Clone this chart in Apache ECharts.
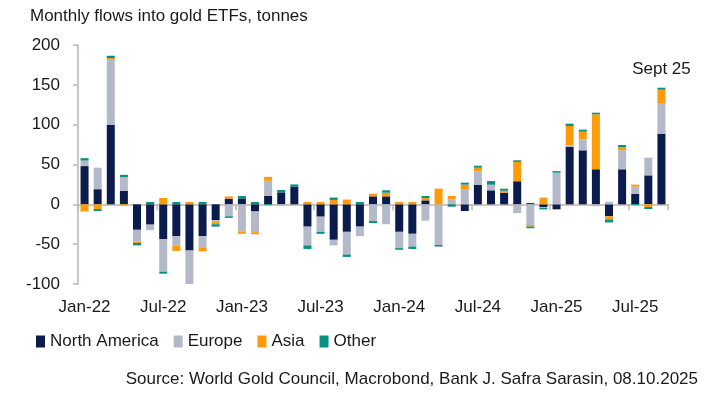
<!DOCTYPE html>
<html>
<head>
<meta charset="utf-8">
<script src="https://cdn.jsdelivr.net/npm/echarts@6/dist/echarts.min.js"></script>
<style>
html, body { margin: 0; padding: 0; background: #fff; }
#main { width: 708px; height: 397px; }
</style>
</head>
<body>
<div id="main"></div>
<script>
// months Jan-22 .. Sep-25
var months = ['Jan-22','Feb-22','Mar-22','Apr-22','May-22','Jun-22','Jul-22','Aug-22','Sep-22','Oct-22','Nov-22','Dec-22',
              'Jan-23','Feb-23','Mar-23','Apr-23','May-23','Jun-23','Jul-23','Aug-23','Sep-23','Oct-23','Nov-23','Dec-23',
              'Jan-24','Feb-24','Mar-24','Apr-24','May-24','Jun-24','Jul-24','Aug-24','Sep-24','Oct-24','Nov-24','Dec-24',
              'Jan-25','Feb-25','Mar-25','Apr-25','May-25','Jun-25','Jul-25','Aug-25','Sep-25'];

// tonnes
var northAmerica = [48, 19, 100, 17, -32, -25.5, -43.5, -40, -58, -40, -20, 7,
                    7.5, -9, 10.5, 15, 22, -28, -15.5, -44.5, -34.5, -28, 10, 10,
                    -34.5, -37, 5, 0, 0, -8.4, 24.7, 17.6, 14.6, 29, 1.5, -3.4,
                    -6.3, 72, 67.8, 44, -15, 44, 13, 36.4, 88.7];
var europe = [7, 27, 81.5, 17, -14.5, -7, -41, -11.5, -43, -14, -2, -15,
              -34, -26, 19, -1, 0, -23.5, -19, -7, -28.5, -12, -21, -25,
              -20.5, -16, -20.5, -51, 6, 18.4, 16.7, 7, 0, -11, -26, -1,
              39.7, 2, 13.8, -2.5, 3.4, 23.8, 9.2, 22.2, 37.6];
var asia = [-9, -6, 2, -1.5, -2, 0, 8, -7, 3, -5, -3, 3,
            -3, -2.5, 5, 0, 0, 3, 3, 5.5, 6, 0, 3.3, 4.6,
            3, 3, 3, 19.7, 4.6, 6.3, 4.6, 0, 2.5, 24.3, -2, 8.4,
            0, 24.3, 9.6, 69, -4, 4.2, 2.5, -3.4, 17.6];
var other = [3, -2.5, 3, 3, -3, 3, -2.5, 3, -2, 3, -3, -2,
             3, 3, -1, 3, 3, -4.5, -2.5, 3, -3, 3, -2.5, 3,
             -2, -3, 2.5, -2, -3, 2.5, 2.5, 4.6, 2.5, 2, -2, -2,
             2, 2.9, 2.5, 2, -3.8, 2.5, -1, -2.5, 2.5];

var yMin = -100, yMax = 200, yStep = 50;

var font = 'Liberation Sans';
var fontSize = 17;
var textColor = '#1a1a1a';
var axisColor = '#bdb5ab';

var dom = document.getElementById('main');
var myChart = echarts.init(dom);

function bar(name, data, color) {
    return {
        name: name,
        type: 'bar',
        stack: 'flows',
        barWidth: 8,
        itemStyle: { color: color },
        data: data
    };
}

// "Sept 25" note sits on the top of the last stack
var otherData = other.map(function (v, i) {
    if (i === other.length - 1) {
        return {
            value: v,
            label: {
                show: true,
                position: 'top',
                formatter: 'Sept 25',
                offset: [0, -5],
                fontFamily: font,
                fontSize: fontSize,
                color: textColor
            }
        };
    }
    return v;
});

var option = {
    animation: false,
    textStyle: { fontFamily: font },
    title: [
        {
            text: 'Monthly flows into gold ETFs, tonnes',
            left: 25,
            top: 3,
            textStyle: { fontFamily: font, fontSize: fontSize, fontWeight: 'normal', color: textColor }
        },
        {
            text: 'Source: World Gold Council, Macrobond, Bank J. Safra Sarasin, 08.10.2025',
            right: 5,
            top: 366,
            textStyle: { fontFamily: font, fontSize: fontSize, fontWeight: 'normal', color: textColor }
        }
    ],
    legend: {
        left: 31,
        top: 328,
        itemWidth: 9,
        itemHeight: 12,
        itemGap: 15,
        icon: 'rect',
        textStyle: { fontFamily: font, fontSize: fontSize, color: textColor },
        data: ['North America', 'Europe', 'Asia', 'Other']
    },
    grid: {
        left: 78,
        right: 40,
        top: 45,
        bottom: 113
    },
    xAxis: [
        {
            type: 'category',
            data: months,
            axisLine: { onZero: true, lineStyle: { color: axisColor, width: 1.5 } },
            axisTick: { show: true, interval: 5, length: 6, lineStyle: { color: axisColor, width: 1.5 } },
            axisLabel: { show: false }
        },
        {
            type: 'category',
            data: months,
            position: 'bottom',
            axisLine: { show: false, onZero: false },
            axisTick: { show: false },
            axisLabel: { interval: 5, margin: 15, fontFamily: font, fontSize: fontSize, color: textColor }
        }
    ],
    yAxis: {
        type: 'value',
        min: yMin,
        max: yMax,
        interval: yStep,
        axisLine: { show: true, lineStyle: { color: axisColor, width: 1.5 } },
        axisTick: { show: true, length: 5, lineStyle: { color: axisColor, width: 1.5 } },
        axisLabel: { margin: 18, fontFamily: font, fontSize: fontSize, color: textColor },
        splitLine: { show: false }
    },
    series: [
        bar('North America', northAmerica, '#0c1b4d'),
        bar('Europe', europe, '#b3b9c8'),
        bar('Asia', asia, '#ff9a0a'),
        bar('Other', otherData, '#07907e')
    ]
};

myChart.setOption(option);
</script>
</body>
</html>
